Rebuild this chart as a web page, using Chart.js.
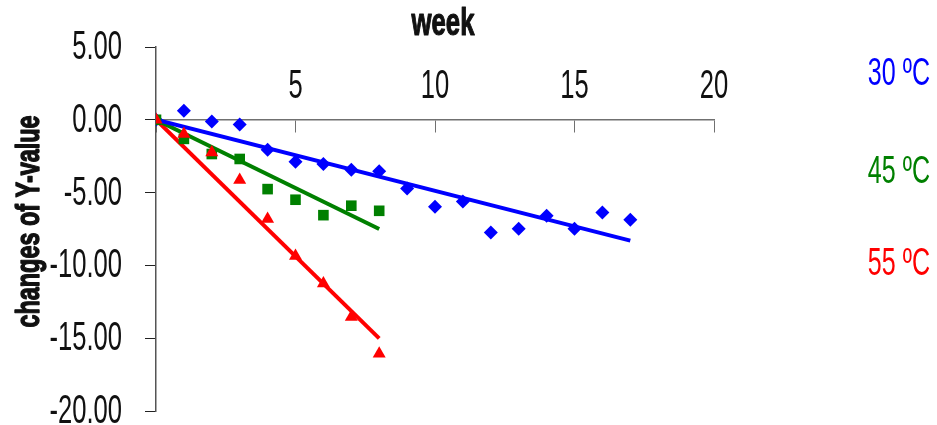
<!DOCTYPE html>
<html>
<head>
<meta charset="utf-8">
<script src="https://cdn.jsdelivr.net/npm/chart.js@4.4.1/dist/chart.umd.min.js"></script>
<style>
  html, body { margin: 0; padding: 0; background: #ffffff; }
  #wrap { width: 937px; height: 425px; position: relative; }
</style>
</head>
<body>
<div id="wrap"><canvas id="chart" width="937" height="425"></canvas></div>
<script>
// Storage weeks and measured change of Y-value at each temperature
const weeks30  = [0, 1, 2, 3, 4, 5, 6, 7, 8, 9, 10, 11, 12, 13, 14, 15, 16, 17];
const change30 = [0, 0.63, -0.12, -0.33, -2.05, -2.88, -3.04, -3.43, -3.54, -4.71, -5.97, -5.61, -7.74, -7.49, -6.59, -7.49, -6.37, -6.87];
const weeks45  = [0, 1, 2, 3, 4, 5, 6, 7, 8];
const change45 = [0, -1.31, -2.35, -2.69, -4.76, -5.49, -6.55, -5.90, -6.25];
const weeks55  = [0, 1, 2, 3, 4, 5, 6, 7, 8];
const change55 = [0, -0.97, -2.24, -4.14, -6.82, -9.35, -11.25, -13.54, -16.07];

const seriesNames   = ['30 ºC', '45 ºC', '55 ºC'];
const seriesColors  = ['#0000ff', '#008000', '#ff0000'];
const seriesMarkers = ['rectRot', 'rect', 'triangle'];
const markerRadii   = [7, 7.5, 7.5];

const xTitle = 'week';
const yTitle = 'changes of Y-value';

// Linear trend forced through the origin (least squares)
function originTrend(xs, ys) {
  let sxy = 0, sxx = 0;
  xs.forEach((x, i) => { sxy += x * ys[i]; sxx += x * x; });
  const slope = sxy / sxx;
  const last = xs[xs.length - 1];
  return [{ x: 0, y: 0 }, { x: last, y: slope * last }];
}
const toPoints = (xs, ys) => xs.map((x, i) => ({ x: x, y: ys[i] }));

const groups = [[weeks30, change30], [weeks45, change45], [weeks55, change55]];
const datasets = [];
groups.forEach(([xs, ys], i) => {
  datasets.push({
    label: seriesNames[i] + ' trend',
    data: originTrend(xs, ys),
    showLine: true,
    borderColor: seriesColors[i],
    borderWidth: 4,
    pointRadius: 0,
    fill: false,
    order: 10 + i
  });
  datasets.push({
    label: seriesNames[i],
    data: toPoints(xs, ys),
    showLine: false,
    backgroundColor: seriesColors[i],
    borderColor: seriesColors[i],
    borderWidth: 0,
    pointStyle: seriesMarkers[i],
    pointRadius: markerRadii[i],
    order: 5 - i
  });
});

// Draws text squeezed horizontally to get a tall, narrow face
function drawNarrow(ctx, text, x, y, align, font, sx, color, rot, stroke) {
  ctx.save();
  ctx.translate(x, y);
  if (rot) ctx.rotate(rot);
  ctx.scale(sx, 1);
  ctx.font = font;
  ctx.fillStyle = color;
  ctx.textAlign = align;
  ctx.textBaseline = 'alphabetic';
  ctx.fillText(text, 0, 0);
  if (stroke) {
    ctx.strokeStyle = color;
    ctx.lineWidth = stroke;
    ctx.lineJoin = 'round';
    ctx.strokeText(text, 0, 0);
  }
  ctx.restore();
}

const textPlugin = {
  id: 'narrowText',
  afterDraw(chart) {
    const ctx = chart.ctx;
    const xs = chart.scales.x, ys = chart.scales.y;
    const axisY = ys.getPixelForValue(0);
    const tickFont = '40px "Liberation Sans", Arial, sans-serif';

    ys.ticks.forEach(t => {
      drawNarrow(ctx, t.value.toFixed(2), chart.chartArea.left - 34,
        ys.getPixelForValue(t.value) + 12, 'right', tickFont, 0.64, '#111');
    });
    xs.ticks.forEach(t => {
      if (t.value > 0) {
        drawNarrow(ctx, String(t.value), xs.getPixelForValue(t.value), axisY - 22,
          'center', tickFont, 0.64, '#111');
      }
    });

    drawNarrow(ctx, xTitle, 443, 35, 'center', 'bold 39px "Liberation Sans", Arial, sans-serif', 0.66, '#111', 0, 1.2);
    drawNarrow(ctx, yTitle, 39, 221.5, 'center', 'bold 33px "Liberation Sans", Arial, sans-serif', 0.71, '#111', -Math.PI / 2, 1.4);

    const legendY = [85, 183, 275];
    seriesNames.forEach((name, i) => {
      drawNarrow(ctx, name, 930, legendY[i], 'right', '38px "Liberation Sans", Arial, sans-serif', 0.66, seriesColors[i]);
    });
  }
};

new Chart(document.getElementById('chart'), {
  type: 'scatter',
  data: { datasets: datasets },
  plugins: [textPlugin],
  options: {
    responsive: false,
    animation: false,
    devicePixelRatio: 1,
    layout: { padding: { left: 145, right: 223, top: 47, bottom: 14 } },
    plugins: { legend: { display: false }, tooltip: { enabled: false } },
    scales: {
      x: {
        type: 'linear',
        position: { y: 0 },
        min: 0, max: 20,
        ticks: { stepSize: 5, display: false },
        grid: { drawOnChartArea: false, drawTicks: true, tickLength: 12, color: '#707070' },
        border: { color: '#707070', width: 1.5 }
      },
      y: {
        type: 'linear',
        position: 'left',
        min: -20, max: 5,
        ticks: { stepSize: 5, display: false },
        grid: { drawOnChartArea: false, drawTicks: true, tickLength: 11, color: '#222' },
        border: { color: '#555', width: 1.5 },
        afterFit(scale) { scale.width = 11; }
      }
    }
  }
});
</script>
</body>
</html>
